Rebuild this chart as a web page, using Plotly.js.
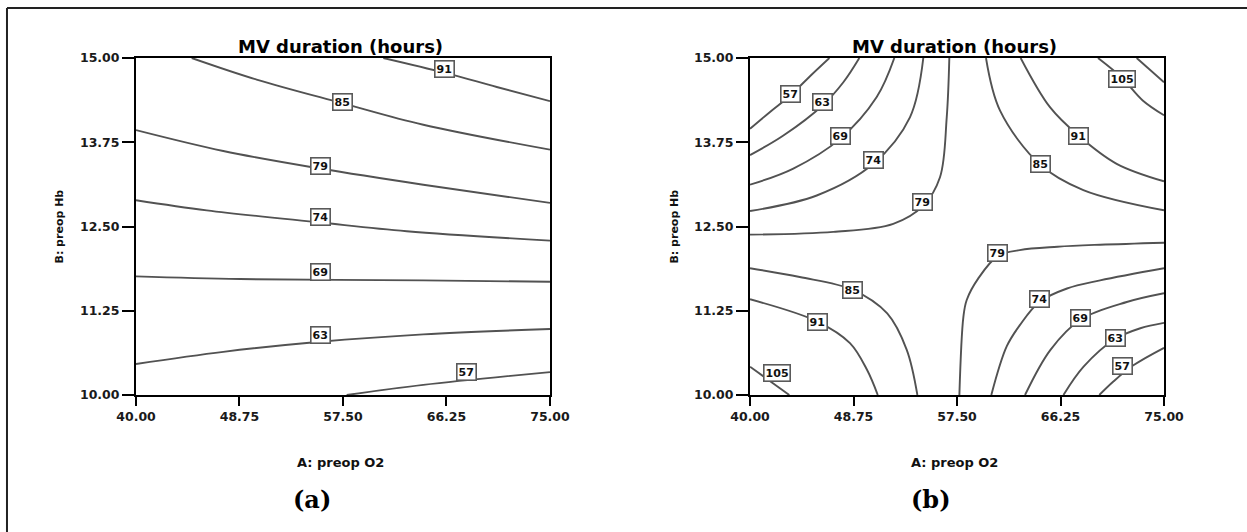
<!DOCTYPE html>
<html>
<head>
<meta charset="utf-8">
<script src="https://cdn.plot.ly/plotly-3.0.1.min.js"></script>
<style>
  html, body { margin: 0; padding: 0; background: #fff; }
  #chart { width: 1247px; height: 532px; }
</style>
</head>
<body>
<div id="chart"></div>
<script>
// ---- axes ----
const O2_TICKS = [40, 48.75, 57.5, 66.25, 75];
const HB_TICKS = [10, 11.25, 12.5, 13.75, 15];

// ---- panel (a): contour lines, A = preop O2, B = preop Hb ----
const a91_O2 = [60.91, 66.12, 70.5, 75];
const a91_Hb = [15.00, 14.78, 14.57, 14.36];
const a85_O2 = [44.71, 50.20, 57.44, 64.29, 75];
const a85_Hb = [15.00, 14.68, 14.33, 14.01, 13.64];
const a79_O2 = [40, 47.38, 55.56, 64.29, 75];
const a79_Hb = [13.93, 13.62, 13.36, 13.12, 12.85];
const a74_O2 = [40, 45.98, 55.56, 62.89, 75];
const a74_Hb = [12.89, 12.74, 12.56, 12.43, 12.29];
const a69_O2 = [40, 48.79, 64.29, 75];
const a69_Hb = [11.76, 11.72, 11.70, 11.68];
const a63_O2 = [40, 47.38, 55.56, 64.29, 75];
const a63_Hb = [10.46, 10.64, 10.79, 10.90, 10.98];
const a57_O2 = [57.81, 64.29, 75];
const a57_Hb = [10.00, 10.15, 10.34];

// contour label boxes for panel (a)
const labA_level = [91, 85, 79, 74, 69, 63, 57];
const labA_O2 = [66.12, 57.44, 55.56, 55.56, 55.56, 55.56, 67.90];
const labA_Hb = [14.83, 14.35, 13.40, 12.64, 11.83, 10.89, 10.34];

// ---- panel (b): contour lines ----
// upper-left family
const b57tl_O2 = [40, 41.69, 43.38, 45.07, 46.71];
const b57tl_Hb = [13.95, 14.20, 14.44, 14.73, 15.00];
const b63tl_O2 = [40, 42.82, 46.15, 47.89, 49.24];
const b63tl_Hb = [13.56, 13.85, 14.30, 14.64, 15.00];
const b69tl_O2 = [40, 43.66, 47.61, 50.71, 52.20];
const b69tl_Hb = [13.12, 13.36, 13.80, 14.42, 15.00];
const b74tl_O2 = [40, 45.64, 50.42, 53.52, 54.65];
const b74tl_Hb = [12.73, 12.96, 13.43, 14.12, 15.00];
const b79tl_O2 = [40, 47.04, 52.11, 54.65, 56.06, 56.63, 56.85];
const b79tl_Hb = [12.38, 12.42, 12.54, 12.81, 13.23, 14.12, 15.00];
// upper-right family
const b85tr_O2 = [59.95, 61.14, 64.52, 68.18, 75];
const b85tr_Hb = [15.00, 14.22, 13.42, 13.04, 12.74];
const b91tr_O2 = [62.88, 65.36, 67.76, 71.00, 75];
const b91tr_Hb = [15.00, 14.27, 13.85, 13.43, 13.17];
const b105tr_O2 = [69.42, 71.42, 73.20, 75];
const b105tr_Hb = [15.00, 14.71, 14.37, 14.15];
const bOuterTr_O2 = [72.69, 75];
const bOuterTr_Hb = [15.00, 14.64];
// lower-left family
const b85bl_O2 = [40, 44.20, 48.68, 51.60, 53.25, 54.15];
const b85bl_Hb = [11.88, 11.75, 11.56, 11.21, 10.67, 10.00];
const b91bl_O2 = [40, 45.69, 48.45, 49.90, 50.80];
const b91bl_Hb = [11.42, 11.09, 10.77, 10.37, 10.00];
const b105bl_O2 = [40, 43.32];
const b105bl_Hb = [10.42, 10.00];
// lower-right family
const b79br_O2 = [57.70, 58.04, 58.32, 59.30, 60.94, 62.80, 66.00, 69.60, 75];
const b79br_Hb = [10.00, 11.16, 11.41, 11.73, 12.06, 12.15, 12.20, 12.23, 12.26];
const b74br_O2 = [60.40, 61.70, 62.83, 64.46, 66.80, 69.60, 75];
const b74br_Hb = [10.00, 10.72, 11.04, 11.38, 11.58, 11.70, 11.88];
const b69br_O2 = [63.25, 65.40, 67.96, 71.85, 75];
const b69br_Hb = [10.00, 10.67, 11.12, 11.38, 11.51];
const b63br_O2 = [66.50, 68.20, 70.86, 73.00, 75];
const b63br_Hb = [10.00, 10.42, 10.83, 10.99, 11.07];
const b57br_O2 = [69.53, 70.72, 72.41, 75];
const b57br_Hb = [10.00, 10.20, 10.44, 10.70];

// contour label boxes for panel (b)
const labB_level = [57, 63, 69, 74, 79, 85, 91, 105, 79, 85, 91, 105, 74, 69, 63, 57];
const labB_O2 = [43.38, 46.15, 47.61, 50.42, 54.60, 64.52, 67.76, 71.42,
                 60.94, 48.68, 45.69, 42.25, 64.46, 67.96, 70.86, 71.51];
const labB_Hb = [14.47, 14.35, 13.85, 13.48, 12.86, 13.42, 13.85, 14.69,
                 12.11, 11.56, 11.09, 10.33, 11.42, 11.14, 10.85, 10.43];

// ---- text ----
const PANEL_TITLE = 'MV duration (hours)';
const X_TITLE = 'A: preop O2';
const Y_TITLE = 'B: preop Hb';
const PANEL_TAGS = ['(a)', '(b)'];

// ---- styling ----
const SANS = 'DejaVu Sans, Arial, sans-serif';
const SERIF = 'DejaVu Serif, Liberation Serif, serif';
const LINE_COLOR = '#525252';

const curvesA = [
  [a91_O2, a91_Hb], [a85_O2, a85_Hb], [a79_O2, a79_Hb], [a74_O2, a74_Hb],
  [a69_O2, a69_Hb], [a63_O2, a63_Hb], [a57_O2, a57_Hb]
];
const curvesB = [
  [b57tl_O2, b57tl_Hb], [b63tl_O2, b63tl_Hb], [b69tl_O2, b69tl_Hb],
  [b74tl_O2, b74tl_Hb], [b79tl_O2, b79tl_Hb],
  [b85tr_O2, b85tr_Hb], [b91tr_O2, b91tr_Hb], [b105tr_O2, b105tr_Hb], [bOuterTr_O2, bOuterTr_Hb],
  [b85bl_O2, b85bl_Hb], [b91bl_O2, b91bl_Hb], [b105bl_O2, b105bl_Hb],
  [b79br_O2, b79br_Hb], [b74br_O2, b74br_Hb], [b69br_O2, b69br_Hb],
  [b63br_O2, b63br_Hb], [b57br_O2, b57br_Hb]
];

function lineTrace(pair, xa, ya) {
  return {
    type: 'scatter', mode: 'lines', x: pair[0], y: pair[1],
    xaxis: xa, yaxis: ya, hoverinfo: 'skip', showlegend: false,
    line: { color: LINE_COLOR, width: 1.9, shape: 'spline', smoothing: 1 }
  };
}

const traces = [];
curvesA.forEach(c => traces.push(lineTrace(c, 'x', 'y')));
curvesB.forEach(c => traces.push(lineTrace(c, 'x2', 'y2')));

function labelNotes(levels, xs, ys, xref, yref) {
  return levels.map((lv, i) => ({
    x: xs[i], y: ys[i], xref: xref, yref: yref, text: String(lv),
    showarrow: false, bgcolor: '#ffffff', bordercolor: '#5a5a5a',
    borderwidth: 1.6, borderpad: 1,
    font: { family: SANS, size: 11, color: '#111', weight: 'bold' }
  }));
}

function panelText(xd, yd) {
  return [
    { text: PANEL_TITLE, xref: xd, yref: yd, x: 0.495, y: 1.034, showarrow: false,
      xanchor: 'center', yanchor: 'middle',
      font: { family: SANS, size: 18, color: '#000', weight: 'bold' } },
    { text: X_TITLE, xref: xd, yref: yd, x: 0.495, y: -0.2015, showarrow: false,
      xanchor: 'center', yanchor: 'middle',
      font: { family: SANS, size: 13, color: '#111', weight: 'bold' } },
    { text: Y_TITLE, xref: xd, yref: yd, x: -0.1836, y: 0.5, showarrow: false,
      textangle: -90, xanchor: 'center', yanchor: 'middle',
      font: { family: SANS, size: 11, color: '#111', weight: 'bold' } }
  ];
}

function xAxis(domain, anchor) {
  return {
    domain: domain, anchor: anchor, range: [40, 75],
    tickmode: 'array', tickvals: O2_TICKS, tickformat: '.2f',
    ticks: 'outside', ticklen: 9, tickwidth: 2, tickcolor: '#000',
    showline: true, linewidth: 2, linecolor: '#000', mirror: true,
    showgrid: false, zeroline: false, fixedrange: true,
    tickfont: { family: SANS, size: 12.5, color: '#1a1a1a', weight: 'bold' }
  };
}
function yAxis(anchor) {
  return {
    domain: [0, 1], anchor: anchor, range: [10, 15],
    tickmode: 'array', tickvals: HB_TICKS, tickformat: '.2f',
    ticks: 'outside', ticklen: 12, tickwidth: 2, tickcolor: '#000',
    showline: true, linewidth: 2, linecolor: '#000', mirror: true,
    showgrid: false, zeroline: false, fixedrange: true,
    tickfont: { family: SANS, size: 12.5, color: '#1a1a1a', weight: 'bold' }
  };
}

const annotations = []
  .concat(labelNotes(labA_level, labA_O2, labA_Hb, 'x', 'y'))
  .concat(labelNotes(labB_level, labB_O2, labB_Hb, 'x2', 'y2'))
  .concat(panelText('x domain', 'y domain'))
  .concat(panelText('x2 domain', 'y2 domain'))
  .concat([
    { text: PANEL_TAGS[0], xref: 'x domain', yref: 'y domain', x: 0.425, y: -0.311,
      showarrow: false, xanchor: 'center', yanchor: 'middle',
      font: { family: SERIF, size: 24, color: '#000', weight: 'bold' } },
    { text: PANEL_TAGS[1], xref: 'x2 domain', yref: 'y2 domain', x: 0.437, y: -0.311,
      showarrow: false, xanchor: 'center', yanchor: 'middle',
      font: { family: SERIF, size: 24, color: '#000', weight: 'bold' } }
  ]);

// outer figure frame: top and left rules
const shapes = [
  { type: 'line', xref: 'paper', yref: 'paper', x0: -0.1255, x1: 1.2, y0: 1.1484, y1: 1.1484,
    line: { color: '#222', width: 2 } },
  { type: 'line', xref: 'paper', yref: 'paper', x0: -0.1255, x1: -0.1255, y0: -0.6, y1: 1.1484,
    line: { color: '#222', width: 2 } }
];

const layout = {
  width: 1247, height: 532,
  margin: { l: 136, r: 83, t: 58, b: 137 },
  paper_bgcolor: '#ffffff', plot_bgcolor: '#ffffff',
  showlegend: false,
  xaxis: xAxis([0, 0.4027], 'y'),
  yaxis: yAxis('x'),
  xaxis2: xAxis([0.5973, 1], 'y2'),
  yaxis2: yAxis('x2'),
  annotations: annotations,
  shapes: shapes
};

Plotly.newPlot('chart', traces, layout, { displayModeBar: false, staticPlot: true });
</script>
</body>
</html>
